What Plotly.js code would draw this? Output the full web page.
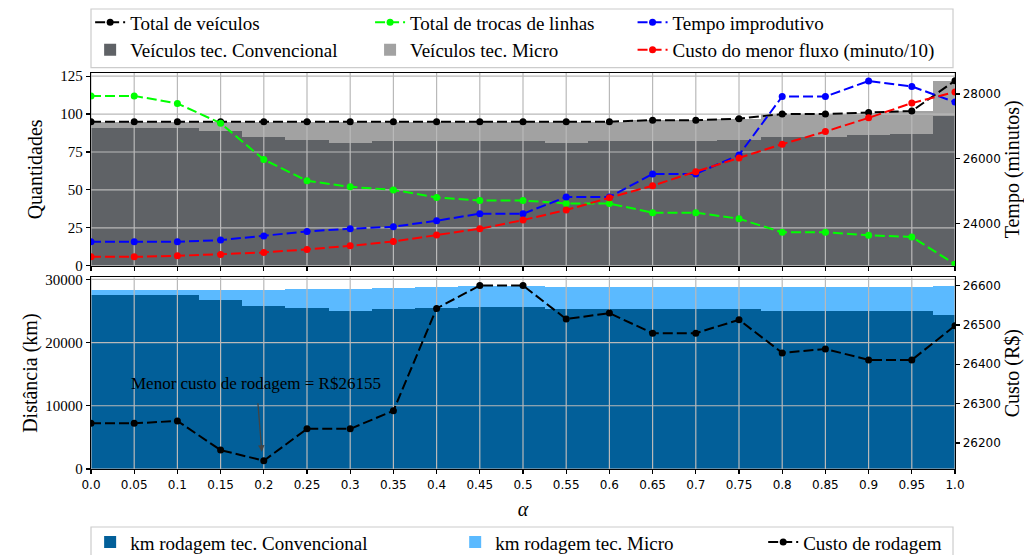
<!DOCTYPE html>
<html>
<head>
<meta charset="utf-8">
<script src="https://cdn.plot.ly/plotly-3.0.1.min.js"></script>
<style>html,body{margin:0;padding:0;background:#fff;}#chart{width:1024px;height:555px;}</style>
</head>
<body>
<div id="chart"></div>
<script>
// ---------- data ----------
const alpha = [0,0.05,0.1,0.15,0.2,0.25,0.3,0.35,0.4,0.45,0.5,0.55,0.6,0.65,0.7,0.75,0.8,0.85,0.9,0.95,1.0];
const alphaLabels = ['0.0','0.05','0.1','0.15','0.2','0.25','0.3','0.35','0.4','0.45','0.5','0.55','0.6','0.65','0.7','0.75','0.8','0.85','0.9','0.95','1.0'];

// top panel
const veicConv   = [91,91,91,89,85,83,81,82,82,82,82,81,82,82,82,83,85,85,86,87,99];
const veicMicro  = [4,4,4,6,10,12,14,13,13,13,13,14,13,14,14,14,15,15,15,15,23];
const totalVeic  = [95,95,95,95,95,95,95,95,95,95,95,95,95,96,96,97,100,100,101,102,122];
const trocas     = [112,112,107,94,70,56,52,50,45,43,43,41,41,35,35,31,22,22,20,19,1];
const tempoImprod = [23430,23430,23430,23482,23606,23751,23834,23896,24082,24299,24299,24815,24815,25528,25528,26117,27925,27925,28402,28235,27751];
const custoFluxo  = [22965,22965,22996,23039,23101,23194,23306,23442,23637,23834,24102,24412,24794,25166,25600,26024,26449,26840,27264,27720,28061];

// bottom panel
const kmConv  = [27500,27500,27500,26660,25760,25450,24930,25240,25400,25560,25610,25240,25350,25240,25240,25240,24930,24930,24930,24930,24350];
const kmMicro = [740,740,740,1580,2480,2940,3460,3310,3310,3310,3310,3520,3410,3520,3520,3520,3830,3830,3830,3830,4570];
const custoRodagem = [26250,26250,26256,26182,26155,26236,26236,26282,26542,26600,26600,26515,26530,26479,26479,26513,26429,26439,26411,26411,26498];

const yTicksTop = [0,25,50,75,100,125];
const yTicksTopRight = [24000,26000,28000];
const yTicksBot = [0,10000,20000,30000];
const yTicksBotRight = [26200,26300,26400,26500,26600];

// ---------- style ----------
const SERIF = 'Liberation Serif';
const SANS = 'DejaVu Sans';
const rTop = [0,127.1], rTopR = [22691,28651], rBot = [0,30316], rBotR = [26134,26621];
const GRID = '#b9b9b9';
const dash = '10px,4px';

function vgrid(xa, ya, yr){
  const xs=[], ys=[];
  alpha.forEach(t=>{ xs.push(t,t,null); ys.push(yr[0],yr[1],null); });
  return {x:xs,y:ys,xaxis:xa,yaxis:ya,mode:'lines',line:{color:GRID,width:1.2},showlegend:false,hoverinfo:'skip'};
}
function hgrid(xa, ya, ticks){
  const xs=[], ys=[];
  ticks.forEach(t=>{ xs.push(0,1,null); ys.push(t,t,null); });
  return {x:xs,y:ys,xaxis:xa,yaxis:ya,mode:'lines',line:{color:GRID,width:1.2},showlegend:false,hoverinfo:'skip'};
}
function lineTrace(name, y, color, xa, ya, legend, rank){
  return {type:'scatter',mode:'lines+markers',name:name,x:alpha,y:y,xaxis:xa,yaxis:ya,
    line:{color:color,width:2,dash:dash},marker:{color:color,size:7},legend:legend,legendrank:rank,cliponaxis:true};
}
function barTrace(name, y, color, xa, ya, legend, rank){
  return {type:'bar',name:name,x:alpha,y:y,xaxis:xa,yaxis:ya,width:0.05,marker:{color:color,line:{width:0}},legend:legend,legendrank:rank};
}

const traces = [
  barTrace('Veículos tec. Convencional', veicConv, '#5f6266', 'x2','y','legend',2),
  barTrace('Veículos tec. Micro', veicMicro, '#a2a2a2', 'x2','y','legend2',2),
  vgrid('x2','y',rTop), hgrid('x2','y',yTicksTop),
  lineTrace('Total de veículos', totalVeic, '#000000', 'x2','y','legend',1),
  lineTrace('Total de trocas de linhas', trocas, '#00ff00', 'x2','y','legend2',1),
  lineTrace('Tempo improdutivo', tempoImprod, '#0000ff', 'x2','y2','legend3',1),
  lineTrace('Custo do menor fluxo (minuto/10)', custoFluxo, '#ff0000', 'x2','y2','legend3',2),
  barTrace('km rodagem tec. Convencional', kmConv, '#025f99', 'x','y3','legend4',1),
  barTrace('km rodagem tec. Micro', kmMicro, '#5bbaff', 'x','y3','legend5',1),
  vgrid('x','y3',rBot), hgrid('x','y3',yTicksBot),
  lineTrace('Custo de rodagem', custoRodagem, '#000000', 'x','y4','legend6',1)
];

const minIdx = custoRodagem.indexOf(Math.min(...custoRodagem));

const axCommon = {showline:true, linecolor:'#000', linewidth:1.3, mirror:true, ticks:'outside', ticklen:4, tickwidth:1.2, tickcolor:'#000', showgrid:false, zeroline:false, tickformat:'d'};
const legCommon = {bgcolor:'rgba(0,0,0,0)', borderwidth:0, font:{family:SERIF,size:19,color:'#000'}, xanchor:'left', yanchor:'top', tracegroupgap:0, traceorder:'normal', itemclick:false};

const layout = {
  width:1024, height:555,
  margin:{l:91, r:69, t:73, b:86, autoexpand:false},
  paper_bgcolor:'#fff', plot_bgcolor:'#fff',
  font:{family:SERIF, size:19, color:'#000'},
  barmode:'stack', bargap:0,
  xaxis: Object.assign({}, axCommon, {domain:[0,1], anchor:'y3', range:[0,1], tickvals:alpha, ticktext:alphaLabels,
    tickfont:{family:SANS,size:12,color:'#000'}, title:{text:'<i>α</i>', font:{family:SERIF,size:20}, standoff:11}}),
  xaxis2: Object.assign({}, axCommon, {domain:[0,1], anchor:'y', matches:'x', range:[0,1], tickvals:alpha, showticklabels:false}),
  yaxis: Object.assign({}, axCommon, {domain:[0.5134,1], anchor:'x2', range:rTop, tickvals:yTicksTop,
    tickfont:{family:SERIF,size:15,color:'#000'}, title:{text:'Quantidades', font:{family:SERIF,size:20}, standoff:12}}),
  yaxis2: Object.assign({}, axCommon, {overlaying:'y', side:'right', anchor:'x2', range:rTopR, tickvals:yTicksTopRight,
    tickfont:{family:SANS,size:12,color:'#000'}, title:{text:'Tempo (minutos)', font:{family:SERIF,size:20}, standoff:4}}),
  yaxis3: Object.assign({}, axCommon, {domain:[0,0.4841], anchor:'x', range:rBot, tickvals:yTicksBot,
    tickfont:{family:SERIF,size:15,color:'#000'}, title:{text:'Distância (km)', font:{family:SERIF,size:20}, standoff:2}}),
  yaxis4: Object.assign({}, axCommon, {overlaying:'y3', side:'right', anchor:'x', range:rBotR, tickvals:yTicksBotRight,
    tickfont:{family:SANS,size:12,color:'#000'}, title:{text:'Custo (R$)', font:{family:SERIF,size:20}, standoff:4}}),
  legend:  Object.assign({}, legCommon, {x:-0.001, y:1.176}),
  legend2: Object.assign({}, legCommon, {x:0.323, y:1.176}),
  legend3: Object.assign({}, legCommon, {x:0.6268, y:1.176}),
  legend4: Object.assign({}, legCommon, {x:-0.001, y:-0.137}),
  legend5: Object.assign({}, legCommon, {x:0.4215, y:-0.137}),
  legend6: Object.assign({}, legCommon, {x:0.778, y:-0.137}),
  shapes:[
    {type:'rect', xref:'paper', yref:'paper', x0:0, x1:0.9977, y0:1.0134, y1:1.1616, line:{color:'#cccccc',width:1.2}, fillcolor:'rgba(255,255,255,0.8)', layer:'below'},
    {type:'rect', xref:'paper', yref:'paper', x0:0, x1:0.9977, y0:-0.235, y1:-0.1465, line:{color:'#cccccc',width:1.2}, fillcolor:'rgba(255,255,255,0.8)', layer:'below'}
  ],
  annotations:[
    {xref:'x', yref:'y4', x:alpha[minIdx], y:custoRodagem[minIdx], xshift:-8, yshift:77, showarrow:false,
     text:'Menor custo de rodagem = R$' + custoRodagem[minIdx], font:{family:SERIF,size:17,color:'#000'}, xanchor:'center', yanchor:'middle'},
    {xref:'x', yref:'y4', x:alpha[minIdx], y:custoRodagem[minIdx], xshift:-2, yshift:9, showarrow:true, text:'',
     ax:-4, ay:-50, arrowhead:2, arrowsize:1, arrowwidth:1.3, arrowcolor:'#444', standoff:0, startstandoff:0}
  ],
  showlegend:true
};

Plotly.newPlot('chart', traces, layout, {displayModeBar:false, staticPlot:true});
</script>
</body>
</html>
